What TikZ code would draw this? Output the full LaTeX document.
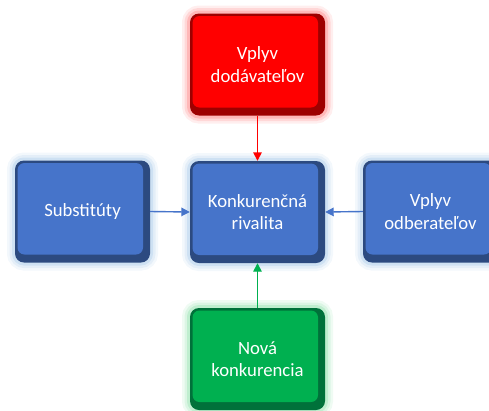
\documentclass[tikz,border=0pt]{standalone}
\usepackage{fontspec}
\setmainfont{Carlito}
\usetikzlibrary{arrows.meta}

\definecolor{redface}{HTML}{FF0000}
\definecolor{rededge}{HTML}{9E0000}
\definecolor{redglow}{HTML}{FF7070}
\definecolor{blueface}{HTML}{4674CA}
\definecolor{blueedge}{HTML}{2C4A80}
\definecolor{blueglow}{HTML}{9DC3E6}
\definecolor{greenface}{HTML}{00B050}
\definecolor{greenedge}{HTML}{00713A}
\definecolor{greenglow}{HTML}{7EDC9F}

\tikzset{
  % raised button: soft glow, dark lower-right bevel, flat face on top
  button/.style n args={3}{
    rounded corners=9pt, minimum width=135pt, minimum height=102pt,
    inner sep=0pt, fill=#3, text=white, align=center,
    font=\fontsize{18.7}{22.5}\selectfont,
    preaction={draw=#1, line width=16pt, opacity=0.12},
    preaction={draw=#1, line width=11pt, opacity=0.18},
    preaction={draw=#1, line width=6pt, opacity=0.3},
    path picture={
      \fill[#2, rounded corners=7pt]
        ([xshift=2.5pt,yshift=-2.5pt]path picture bounding box.north west)
        rectangle ([xshift=-7pt,yshift=8pt]path picture bounding box.south east);
    }},
  redbox/.style={button={redglow}{redface}{rededge}},
  bluebox/.style={button={blueglow}{blueface}{blueedge}},
  greenbox/.style={button={greenglow}{greenface}{greenedge}},
  link/.style={line width=1.4pt, -{Triangle[length=8.5pt,width=8.5pt]}},
}

\begin{document}
\begin{tikzpicture}[x=1pt,y=-1pt]
  \useasboundingbox (0,0) rectangle (489,410);
  \clip (0,0) rectangle (489,410);

  \node[redbox]   (supp) at (257.5, 64.5) {Vplyv\\dodávateľov};
  \node[bluebox]  (subs) at (82.5, 211.5) {Substitúty};
  \node[bluebox]  (riv)  at (257.5, 212)  {Konkurenčná\\rivalita};
  \node[bluebox]  (buy)  at (430.5, 211.5) {Vplyv\\odberateľov};
  \node[greenbox] (new)  at (257.5, 359)  {Nová\\konkurencia};

  \draw[link, draw=redface, fill=redface] (supp.south) -- (riv.north);
  \draw[link, draw=blueface, fill=blueface] (subs.east) -- (riv.west);
  \draw[link, draw=blueface, fill=blueface] (buy.west) -- (riv.east);
  \draw[link, draw=greenface, fill=greenface] (new.north) -- (riv.south);
\end{tikzpicture}
\end{document}
